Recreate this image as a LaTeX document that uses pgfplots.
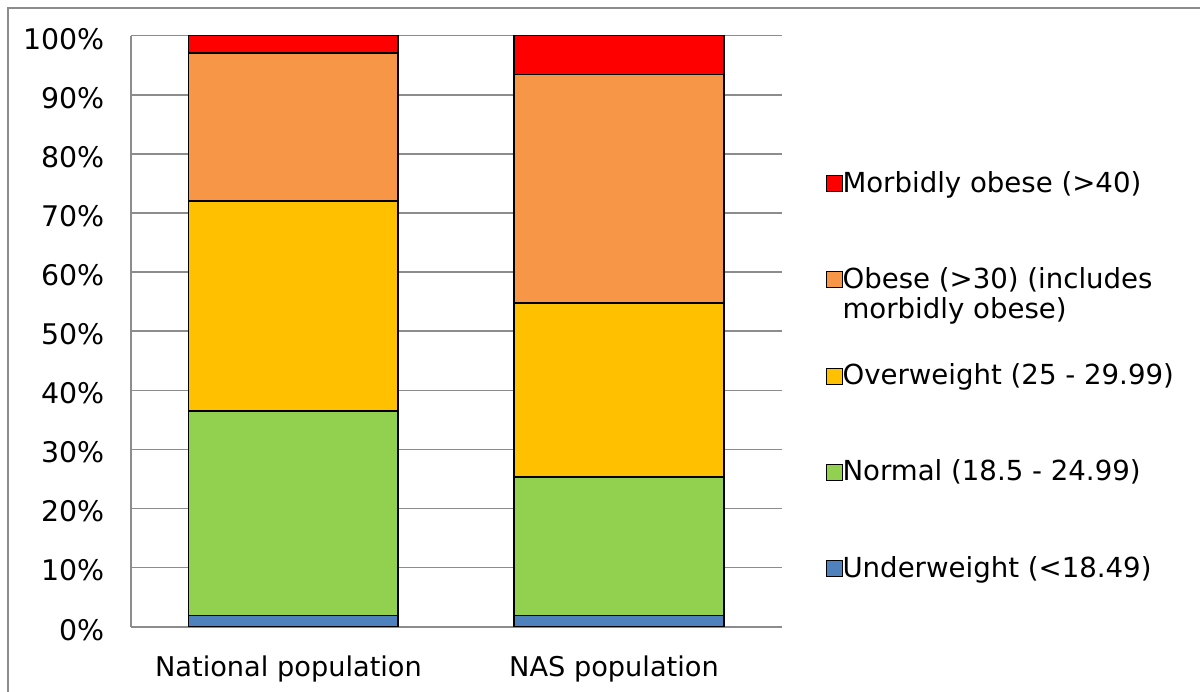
\documentclass[border=0pt]{standalone}
\usepackage{fontspec}
\setmainfont{DejaVu Sans}
\usepackage{pgfplots}
\pgfplotsset{compat=1.18}
\definecolor{cRed}{HTML}{FF0000}
\definecolor{cOrange}{HTML}{F79646}
\definecolor{cYellow}{HTML}{FFC000}
\definecolor{cGreen}{HTML}{92D050}
\definecolor{cBlue}{HTML}{4F81BD}
\definecolor{cGrid}{HTML}{8C8C8C}
\begin{document}
\fontsize{13.8bp}{15bp}\selectfont
\begin{tikzpicture}[x=0.5bp,y=0.5bp]
\path[use as bounding box] (0,0) rectangle (1200,691);
\clip (0,0) rectangle (1200,691);
\draw[cGrid, line width=0.9bp] (8,-20) -- (8,683) -- (1220,683);
\begin{axis}[
  at={(65.35bp,32.15bp)}, anchor=south west,
  scale only axis, width=325.5bp, height=295.5bp,
  ybar stacked, bar width=0.644,
  xmin=-0.5, xmax=1.5, ymin=0, ymax=100,
  xtick={0,1}, xticklabels={National population, NAS population},
  ytick={0,10,...,100},
  yticklabel={\pgfmathprintnumber{\tick}\%},
  /pgf/number format/assume math mode=true,
  axis x line*=bottom, axis y line*=left,
  axis line style={cGrid, line width=0.9bp, -},
  major tick length=0pt,
  ymajorgrids, grid style={cGrid, line width=0.75bp},
  xticklabel style={anchor=north, inner sep=0pt, yshift=-14.4bp, xshift=-2.5bp, font=\fontsize{13.6bp}{15bp}\selectfont},
  yticklabel style={anchor=east, inner sep=0pt, xshift=-12.85bp, yshift=-1.5bp, font=\fontsize{14.2bp}{15bp}\selectfont},
  every axis plot/.append style={draw=black, line width=0.8bp},
  legend image code/.code={\draw[#1, draw=black, line width=0.5bp] (0bp,-4bp) rectangle (8bp,4bp);},
  reverse legend,
  legend cell align=left,
  legend style={at={(axis description cs:1,1)}, anchor=north west, xshift=21.7bp, yshift=-67.5bp,
    draw=none, fill=none, inner sep=0pt, row sep=35.6bp, column sep=0pt,
    nodes={inner sep=0pt, font=\fontsize{13.8bp}{15bp}\selectfont},
    /tikz/every even column/.append style={column sep=3.5bp}},
]
\addplot[fill=cBlue] coordinates {(0,1.9) (1,1.9)};
\addlegendentry{Underweight (<18.49)}
\addplot[fill=cGreen] coordinates {(0,34.6) (1,23.4)};
\addlegendentry{Normal (18.5 - 24.99)}
\addplot[fill=cYellow] coordinates {(0,35.5) (1,29.5)};
\addlegendentry{Overweight (25 - 29.99)}
\addplot[fill=cOrange] coordinates {(0,25.1) (1,38.6)};
\addlegendentry{\vphantom{(}\smash{\begin{tabular}[t]{@{}l@{}}Obese (>30) (includes\\morbidly obese)\end{tabular}}}
\addplot[fill=cRed] coordinates {(0,2.9) (1,6.6)};
\addlegendentry{Morbidly obese (>40)}
\end{axis}
\end{tikzpicture}
\end{document}
